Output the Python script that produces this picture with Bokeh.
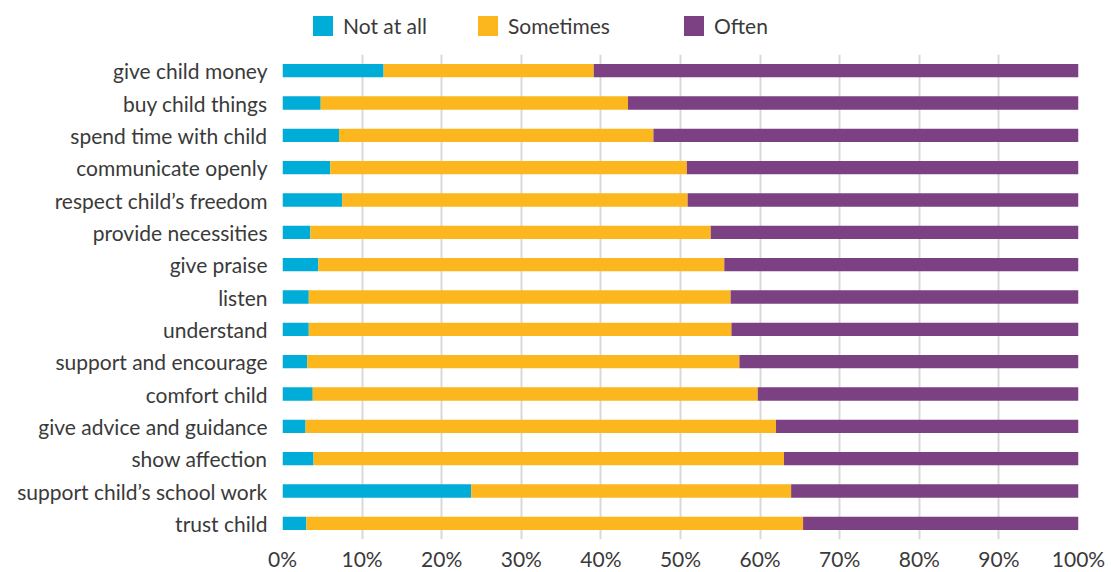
from bokeh.plotting import figure
from bokeh.models import FactorRange, Range1d, Legend, LegendItem, FixedTicker
from bokeh.layouts import column
from bokeh.embed import file_html
from bokeh.resources import INLINE

categories = ["give child money", "buy child things", "spend time with child",
              "communicate openly", "respect child\u2019s freedom", "provide necessities",
              "give praise", "listen", "understand", "support and encourage",
              "comfort child", "give advice and guidance", "show affection",
              "support child\u2019s school work", "trust child"]
not_at_all = [12.7, 4.8, 7.1, 6.0, 7.5, 3.5, 4.5, 3.3, 3.3, 3.1, 3.8, 2.9, 3.9, 23.7, 3.0]
sometimes = [26.4, 38.6, 39.5, 44.8, 43.4, 50.3, 51.0, 53.0, 53.1, 54.3, 55.9, 59.1, 59.1, 40.2, 62.4]
often = [60.9, 56.6, 53.4, 49.2, 49.1, 46.2, 44.5, 43.7, 43.6, 42.6, 40.3, 38.0, 37.0, 36.1, 34.6]
series = ["Not at all", "Sometimes", "Often"]
colors = ["#00ADD8", "#FDB71E", "#7B4182"]
ticks = [0, 10, 20, 30, 40, 50, 60, 70, 80, 90, 100]

FONT = "Lato"
TXT = "#3a3a3a"
W = 1107

p = figure(y_range=FactorRange(factors=list(reversed(categories)), range_padding=0),
           x_range=Range1d(0, 100),
           frame_width=796, frame_height=485,
           min_border_left=282, min_border_top=16, min_border_right=29, min_border_bottom=20,
           output_backend="svg", toolbar_location=None)

data = dict(cat=categories, a=not_at_all, b=sometimes, c=often)
renderers = p.hbar_stack(["a", "b", "c"], y="cat", height=0.41, color=colors,
                         source=data, line_color=None)

p.outline_line_color = None
p.ygrid.grid_line_color = None
p.xgrid.grid_line_color = "#d9d9d9"
p.xgrid.grid_line_width = 2
p.xgrid.level = "underlay"

p.xaxis.ticker = FixedTicker(ticks=ticks)
p.xaxis.major_label_overrides = {t: f"{t}%" for t in ticks}
p.xaxis.axis_line_color = None
p.xaxis.major_tick_line_color = None
p.xaxis.minor_tick_line_color = None
p.xaxis.major_label_standoff = 0
p.xaxis.major_label_text_font = FONT
p.xaxis.major_label_text_font_size = "21px"
p.xaxis.major_label_text_color = TXT

p.yaxis.axis_line_color = None
p.yaxis.major_tick_line_color = None
p.yaxis.minor_tick_line_color = None
p.yaxis.major_label_standoff = 9
p.yaxis.major_label_text_font = FONT
p.yaxis.major_label_text_font_size = "21px"
p.yaxis.major_label_text_color = TXT

# legend strip above the chart (frame aligned with the main chart's frame)
lf = figure(width=W, height=38, frame_width=796, x_range=Range1d(0, 100), y_range=Range1d(0, 38),
            min_border_left=282, min_border_right=29, min_border_top=0, min_border_bottom=0,
            output_backend="svg", toolbar_location=None)
lf.axis.visible = False
lf.grid.visible = False
lf.outline_line_color = None
dummy = [lf.hbar(y=[-100], left=[0], right=[1], height=0.5, color=c, line_color=None)
         for c in colors]
xs = [28, 193, 399]
for r, name, x in zip(dummy, series, xs):
    lg = Legend(items=[LegendItem(label=name, renderers=[r])],
                location=(x, 0), orientation="horizontal",
                padding=0, margin=0, border_line_color=None,
                background_fill_alpha=0,
                glyph_width=25, glyph_height=25, label_standoff=8,
                label_text_font=FONT, label_text_font_size="21px",
                label_text_color=TXT)
    lf.add_layout(lg, "center")

layout = column(lf, p, spacing=0)
open("out.html", "w").write(file_html(layout, INLINE))
